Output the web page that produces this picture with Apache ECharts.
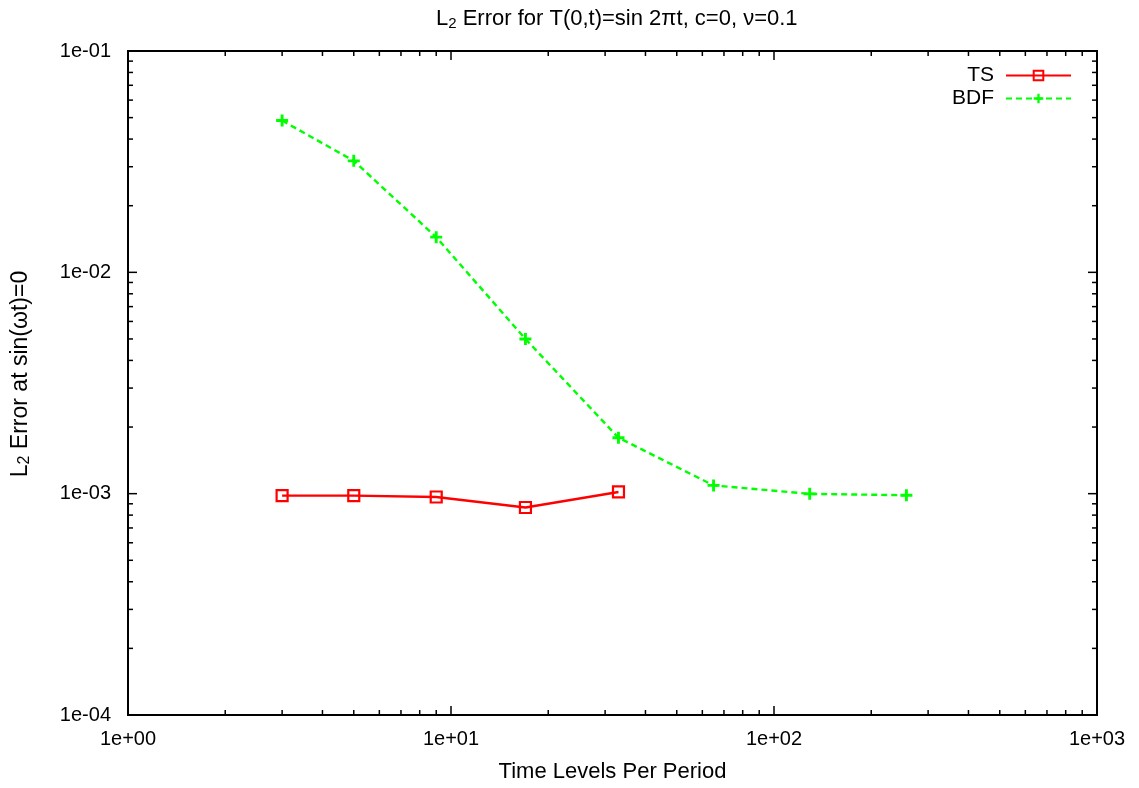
<!DOCTYPE html>
<html>
<head>
<meta charset="utf-8">
<script src="https://cdn.jsdelivr.net/npm/echarts@6/dist/echarts.min.js"></script>
<style>
html,body{margin:0;padding:0;background:#fff;}
#chart{width:1139px;height:788px;}
</style>
</head>
<body>
<div id="chart"></div>
<script>
// ---- data ----
const tsX = [3, 5, 9, 17, 33];
const tsY = [0.00098, 0.00098, 0.000966, 0.000866, 0.001018];
const bdfX = [3, 5, 9, 17, 33, 65, 129, 257];
const bdfY = [0.0485, 0.0319, 0.01442, 0.0050, 0.00179, 0.00109, 0.000998, 0.000984];
const xMajorTicks = [1, 10, 100, 1000];
const yMajorTicks = [0.0001, 0.001, 0.01, 0.1];
const xMinorTicks = [2,3,4,5,6,7,8,9,20,30,40,50,60,70,80,90,200,300,400,500,600,700,800,900];
const yMinorTicks = [0.0002,0.0003,0.0004,0.0005,0.0006,0.0007,0.0008,0.0009,0.002,0.003,0.004,0.005,0.006,0.007,0.008,0.009,0.02,0.03,0.04,0.05,0.06,0.07,0.08,0.09];
const xMin = 1, xMax = 1000, yMin = 0.0001, yMax = 0.1;

const FONT = '"Liberation Sans", Arial, Helvetica, sans-serif';

function sciLabel(v) {
  const e = Math.round(Math.log10(v));
  const s = e >= 0 ? '+' : '-';
  const a = Math.abs(e);
  return '1e' + s + (a < 10 ? '0' + a : a);
}

// tick data: [x, y, side(0=bottom,1=top,2=left,3=right), major(1/0)]
const tickData = [];
xMajorTicks.forEach(v => { tickData.push([v, yMin, 0, 1]); tickData.push([v, yMax, 1, 1]); });
xMinorTicks.forEach(v => { tickData.push([v, yMin, 0, 0]); tickData.push([v, yMax, 1, 0]); });
yMajorTicks.forEach(v => { tickData.push([xMin, v, 2, 1]); tickData.push([xMax, v, 3, 1]); });
yMinorTicks.forEach(v => { tickData.push([xMin, v, 2, 0]); tickData.push([xMax, v, 3, 0]); });

const plusPath = 'path://M3.8,0H6.2V3.8H10V6.2H6.2V10H3.8V6.2H0V3.8H3.8Z';
const subStyle = { fontFamily: FONT, fontSize: 15, verticalAlign: 'bottom', padding: [9, 0, 0, 0], color: '#000' };

const chart = echarts.init(document.getElementById('chart'), null, {renderer: 'canvas'});
chart.setOption({
  animation: false,
  backgroundColor: '#fff',
  title: {
    text: 'L{sub|2} Error for T(0,t)=sin 2πt, c=0, ν=0.1',
    left: 431,
    top: 2,
    textStyle: {
      fontFamily: FONT, fontSize: 22, fontWeight: 'normal', color: '#000',
      rich: { sub: subStyle }
    }
  },
  grid: { left: 128, right: 42, top: 51, bottom: 69, containLabel: false, show: false },
  legend: {
    right: 62, top: 60, orient: 'vertical', align: 'right',
    itemWidth: 65, itemHeight: 12, itemGap: 2,
    textStyle: { fontFamily: FONT, fontSize: 21, color: '#000', lineHeight: 20, padding: [0, 7, 0, 0] },
    data: ['TS', 'BDF']
  },
  xAxis: {
    type: 'log', logBase: 10, min: xMin, max: xMax,
    name: 'Time Levels Per Period', nameLocation: 'middle', nameGap: 46,
    nameTextStyle: { fontFamily: FONT, fontSize: 22, color: '#000' },
    axisLine: { show: true, onZero: false, lineStyle: { color: '#000', width: 2 } },
    axisTick: { show: false },
    splitLine: { show: false },
    axisLabel: { fontFamily: FONT, fontSize: 20, color: '#000', margin: 14, formatter: sciLabel }
  },
  yAxis: {
    type: 'log', logBase: 10, min: yMin, max: yMax,
    name: 'L{sub|2} Error at sin(ωt)=0', nameLocation: 'middle', nameGap: 95, nameRotate: 90,
    nameTextStyle: { fontFamily: FONT, fontSize: 23, color: '#000', padding: [0, 0, 0, 18],
      rich: { sub: { fontFamily: FONT, fontSize: 16, verticalAlign: 'bottom', padding: [9, 0, 0, 0], color: '#000' } } },
    axisLine: { show: true, onZero: false, lineStyle: { color: '#000', width: 2 } },
    axisTick: { show: false },
    splitLine: { show: false },
    axisLabel: { fontFamily: FONT, fontSize: 20, color: '#000', margin: 17, formatter: sciLabel }
  },
  series: [
    {
      name: 'ticks', type: 'custom', silent: true, clip: false, z: 5,
      data: tickData,
      renderItem: function (params, api) {
        const p = api.coord([api.value(0), api.value(1)]);
        const side = api.value(2);
        const len = api.value(3) ? 9 : 5;
        let x2 = p[0], y2 = p[1];
        if (side === 0) y2 -= len; else if (side === 1) y2 += len;
        else if (side === 2) x2 += len; else x2 -= len;
        return { type: 'line', shape: { x1: p[0], y1: p[1], x2: x2, y2: y2 },
                 style: { stroke: '#000', lineWidth: 1.5 } };
      }
    },
    {
      name: 'frame', type: 'custom', silent: true, clip: false, z: 4,
      data: [[xMin, yMax, xMax, yMin]],
      renderItem: function (params, api) {
        const a = api.coord([api.value(0), api.value(1)]);
        const b = api.coord([api.value(2), api.value(3)]);
        return { type: 'rect', shape: { x: a[0], y: a[1], width: b[0] - a[0], height: b[1] - a[1] },
                 style: { fill: null, stroke: '#000', lineWidth: 2 } };
      }
    },
    {
      name: 'TS', type: 'line',
      data: tsX.map((x, i) => [x, tsY[i]]),
      symbol: 'rect', symbolSize: 11, showSymbol: true,
      lineStyle: { color: '#ff0000', width: 2.4 },
      itemStyle: { color: 'rgba(255,255,255,0)', borderColor: '#ff0000', borderWidth: 2.2 },
      z: 3
    },
    {
      name: 'BDF', type: 'line',
      data: bdfX.map((x, i) => [x, bdfY[i]]),
      symbol: plusPath, symbolSize: 12, showSymbol: true,
      lineStyle: { color: '#00ff00', width: 2.4, type: [6, 4] },
      itemStyle: { color: '#00ff00' },
      z: 3
    }
  ]
});
</script>
</body>
</html>
